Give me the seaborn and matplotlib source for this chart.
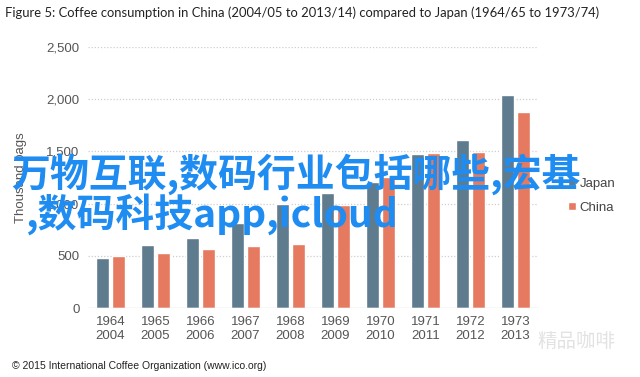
import pandas as pd
import matplotlib.pyplot as plt
import seaborn as sns
from matplotlib.ticker import FuncFormatter

# Japan 1964/65-1973/74 vs China 2004/05-2013/14, thousand bags
japan_years = ['1964', '1965', '1966', '1967', '1968', '1969', '1970', '1971', '1972', '1973']
china_years = ['2004', '2005', '2006', '2007', '2008', '2009', '2010', '2011', '2012', '2013']
japan = [481, 602, 666, 810, 994, 1096, 1207, 1476, 1606, 2036]
china = [500, 529, 561, 593, 609, 985, 1250, 1485, 1490, 1871]

JAPAN_COLOR = '#5f7b8e'
CHINA_COLOR = '#e67a60'


def build_frame():
    labels = [j + '\n' + c for j, c in zip(japan_years, china_years)]
    rows = []
    for lab, j, c in zip(labels, japan, china):
        rows.append((lab, 'Japan', j))
        rows.append((lab, 'China', c))
    return pd.DataFrame(rows, columns=['period', 'country', 'bags']), labels


def draw():
    df, order = build_frame()
    sns.set_style('white')
    plt.rcParams['font.family'] = ['Liberation Sans', 'DejaVu Sans']

    fig = plt.figure(figsize=(6.4, 3.77), dpi=100)
    ax = fig.add_axes([0.1375, 0.183, 0.703, 0.693])

    sns.barplot(data=df, x='period', y='bags', hue='country', order=order,
                hue_order=['Japan', 'China'], palette=[JAPAN_COLOR, CHINA_COLOR],
                saturation=1, width=0.7, gap=0.2, errorbar=None, ax=ax, zorder=3)

    ax.set_ylim(0, 2500)
    ax.set_xlim(-0.5, 9.5)
    ax.set_yticks([0, 500, 1000, 1500, 2000, 2500])
    ax.yaxis.set_major_formatter(FuncFormatter(lambda v, p: f'{int(v):,}'))
    for v in [500, 1000, 1500, 2000, 2500]:
        ax.axhline(v, color='#cfcfcf', lw=0.9, ls=(0, (1, 1.5)), zorder=1)
    ax.axhline(0, color='#d9d9d9', lw=1.0, zorder=4)
    for s in ax.spines.values():
        s.set_visible(False)
    ax.tick_params(axis='both', length=0, labelsize=9.5, colors='#555555', pad=6)
    ax.set_xlabel('')
    ax.set_ylabel('Thousand bags', fontsize=9.5, color='#555555', labelpad=14)

    sns.move_legend(ax, loc='center left', bbox_to_anchor=(1.04, 0.43), frameon=False,
                    title=None, fontsize=9.5, handlelength=0.6, handleheight=0.6,
                    handletextpad=0.3, labelspacing=0.9)
    for t in ax.get_legend().get_texts():
        t.set_color('#444444')

    fig.text(0.008, 0.965, 'Figure 5: Coffee consumption in China (2004/05 to 2013/14) compared to Japan (1964/65 to 1973/74)',
             fontsize=9.4, family=['Lato', 'DejaVu Sans'], color='#222222', va='center')
    fig.text(0.018, 0.029, '\u00a9 2015 International Coffee Organization (www.ico.org)',
             fontsize=7.5, color='#222222', va='center')

    # watermark overlay text
    cjk = ['Noto Sans CJK SC', 'DejaVu Sans']
    fig.text(0.018, 0.537, '万物互联,数码行业包括哪些,宏基', fontsize=28, family=cjk,
             weight='bold', color='#1f8cf2', va='center', zorder=10)
    fig.text(0.04, 0.432, ',数码科技app,icloud', fontsize=28, family=cjk,
             weight='bold', color='#1f8cf2', va='center', zorder=10)
    fig.text(0.84, 0.095, '精品咖啡', fontsize=14, family=cjk, color='#e2e2e2', va='center')

    fig.savefig('out.png', dpi=100)
    plt.close(fig)


draw()
